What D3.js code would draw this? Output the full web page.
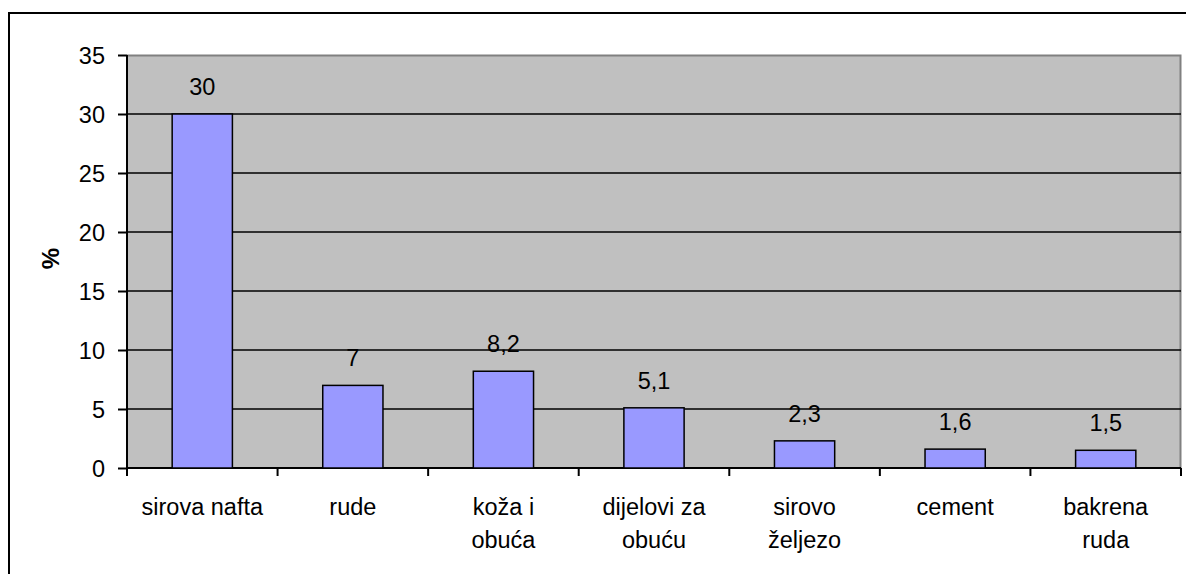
<!DOCTYPE html>
<html>
<head>
<meta charset="utf-8">
<script src="https://cdn.jsdelivr.net/npm/d3@7"></script>
<style>
  body { margin: 0; background: #fff; }
  svg { display: block; font-family: "Liberation Sans", Arial, sans-serif; }
</style>
</head>
<body>
<script>
// categories (two lines each) and values
const categories = [
  ['sirova nafta'],
  ['rude'],
  ['koža i', 'obuća'],
  ['dijelovi za', 'obuću'],
  ['sirovo', 'željezo'],
  ['cement'],
  ['bakrena', 'ruda']
]
const values = [30, 7, 8.2, 5.1, 2.3, 1.6, 1.5]
const valueLabels = ['30', '7', '8,2', '5,1', '2,3', '1,6', '1,5']
const yTicks = [0, 5, 10, 15, 20, 25, 30, 35]

const W = 1186, H = 574
const margin = { top: 55, right: 5, bottom: 106, left: 127 }
const width = W - margin.left - margin.right
const height = H - margin.top - margin.bottom
const fontSize = 23.5

const svg = d3.select('body').append('svg')
  .attr('width', W)
  .attr('height', H)

// outer frame
svg.append('rect')
  .attr('x', 9).attr('y', 13)
  .attr('width', W + 20).attr('height', H + 20)
  .attr('fill', 'none')
  .attr('stroke', '#000')
  .attr('stroke-width', 2)

const g = svg.append('g')
  .attr('transform', 'translate(' + margin.left + ',' + margin.top + ')')

const x = d3.scaleBand()
  .domain(d3.range(categories.length))
  .range([0, width])
  .paddingInner(0.6)
  .paddingOuter(0.3)

const y = d3.scaleLinear().domain([0, 35]).range([height, 0])

function label(parent, px, py, anchor) {
  return parent.append('text')
    .attr('x', px).attr('y', py)
    .attr('text-anchor', anchor)
    .attr('font-size', fontSize)
    .attr('fill', '#000')
}

// plot background
g.append('rect')
  .attr('width', width).attr('height', height)
  .attr('fill', '#c0c0c0')

g.append('path')
  .attr('d', 'M0,0.5H' + (width - 0.5) + 'V' + height)
  .attr('fill', 'none')
  .attr('stroke', '#808080')
  .attr('stroke-width', 2)

// gridlines
g.selectAll('.grid')
  .data(yTicks.filter(function(d) { return d > 0 && d < 35 }))
  .enter().append('line')
  .attr('x1', 0).attr('x2', width)
  .attr('y1', function(d) { return y(d) })
  .attr('y2', function(d) { return y(d) })
  .attr('stroke', '#000')
  .attr('stroke-width', 1.5)

// y axis
const yAxis = d3.axisLeft(y).tickValues(yTicks).tickSize(9).tickFormat('')
const ya = g.append('g').call(yAxis)
ya.select('.domain').attr('stroke-width', 2).attr('d', 'M0,0V' + height)
ya.selectAll('line').attr('stroke-width', 2)
yTicks.forEach(function(t) {
  label(g, -22, y(t) + 8.5, 'end').text(t)
})

// x axis ticks at band boundaries
const step = width / categories.length
const xa = g.append('g').attr('transform', 'translate(0,' + height + ')')
xa.append('line')
  .attr('x1', 0).attr('x2', width)
  .attr('stroke', '#000').attr('stroke-width', 2)
xa.selectAll('.tick')
  .data(d3.range(categories.length + 1))
  .enter().append('line')
  .attr('x1', function(i) { return i * step })
  .attr('x2', function(i) { return i * step })
  .attr('y1', 0).attr('y2', 8)
  .attr('stroke', '#000').attr('stroke-width', 2)

// category labels
categories.forEach(function(lines, i) {
  const cx = x(i) + x.bandwidth() / 2
  const t = label(xa, cx, 0, 'middle')
  lines.forEach(function(s, j) {
    t.append('tspan').attr('x', cx).attr('y', 47 + j * 33).text(s)
  })
})

// bars
g.selectAll('.bar')
  .data(values)
  .enter().append('rect')
  .attr('x', function(d, i) { return x(i) })
  .attr('y', function(d) { return y(d) })
  .attr('width', x.bandwidth())
  .attr('height', function(d) { return height - y(d) })
  .attr('fill', '#9999ff')
  .attr('stroke', '#000')
  .attr('stroke-width', 1.5)

// value labels
values.forEach(function(v, i) {
  label(g, x(i) + x.bandwidth() / 2, y(v) - 19, 'middle').text(valueLabels[i])
})

// y title
svg.append('text')
  .attr('transform', 'translate(59,' + (margin.top + height / 2 - 3) + ') rotate(-90)')
  .attr('text-anchor', 'middle')
  .attr('font-size', 24)
  .attr('font-weight', 'bold')
  .text('%')
</script>
</body>
</html>
